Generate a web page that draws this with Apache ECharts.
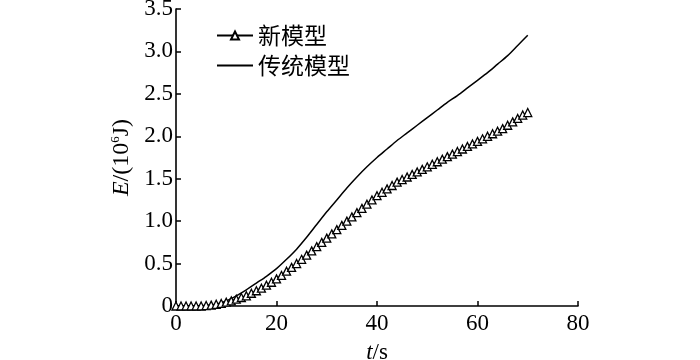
<!DOCTYPE html>
<html>
<head>
<meta charset="utf-8">
<script src="https://cdn.jsdelivr.net/npm/echarts@6/dist/echarts.min.js"></script>
<style>html,body{margin:0;padding:0;background:#fff;}#c{width:700px;height:360px;}</style>
</head>
<body>
<div id="c"></div>
<script>
var seriesNames = ['新模型', '传统模型'];
var tNew = [];
for (var i = 0; i <= 70; i++) tNew.push(i);
var eNew = [0,0,0,0,0,0,0.005,0.01,0.02,0.03,
  0.045,0.06,0.08,0.10,0.12,0.15,0.18,0.21,0.245,0.28,
  0.32,0.36,0.41,0.455,0.50,0.55,0.60,0.65,0.70,0.75,
  0.80,0.85,0.90,0.95,1.00,1.05,1.10,1.15,1.20,1.25,
  1.30,1.34,1.38,1.42,1.46,1.49,1.52,1.55,1.58,1.61,
  1.64,1.67,1.70,1.73,1.76,1.79,1.82,1.85,1.88,1.91,
  1.94,1.97,2.00,2.03,2.06,2.09,2.13,2.17,2.21,2.25,2.28];
var tOld = [0,2,4,6,8,10,12,14,16,18,20,22,24,26,28,30,32,34,36,38,40,42,44,46,48,50,52,54,56,58,60,62,64,66,68,70];
var eOld = [0,0,0,0.005,0.02,0.06,0.12,0.19,0.27,0.35,0.44,0.55,0.67,0.81,0.96,1.11,1.25,1.39,1.52,1.64,1.75,1.85,1.95,2.04,2.13,2.22,2.31,2.40,2.48,2.57,2.66,2.75,2.85,2.95,3.07,3.19];
var xTicks = [0,20,40,60,80];
var yTicks = [0,0.5,1.0,1.5,2.0,2.5,3.0,3.5];

function pairs(xs, ys){ return xs.map(function(x,i){ return [x, ys[i]]; }); }

var serif = '"Liberation Serif","DejaVu Serif",serif';
var chart = echarts.init(document.getElementById('c'), null, {renderer:'canvas'});
chart.setOption({
  animation: false,
  backgroundColor: '#fff',
  grid: {left: 176, right: 122, top: 9, bottom: 54, containLabel: false, outerBoundsMode: 'none'},
  legend: {
    orient: 'vertical', left: 211, top: 19, itemWidth: 36, itemHeight: 10, itemGap: 7,
    data: [
      {name: seriesNames[0]},
      {name: seriesNames[1], itemStyle: {opacity: 0}}
    ],
    textStyle: {fontFamily: '"Noto Sans CJK SC",sans-serif', fontSize: 23, color: '#000'}
  },
  xAxis: {
    type: 'value', min: xTicks[0], max: xTicks[xTicks.length-1], interval: 20,
    name: '{i|t}/s', nameLocation: 'middle', nameGap: 35,
    nameTextStyle: {fontFamily: serif, fontSize: 23, color: '#000',
      rich: {i: {fontFamily: serif, fontStyle: 'italic', fontSize: 23, color: '#000'}}},
    axisLine: {lineStyle: {color: '#000', width: 1.6}},
    axisTick: {inside: true, length: 5, lineStyle: {color: '#000', width: 1.5}},
    axisLabel: {fontFamily: serif, fontSize: 23, color: '#000', margin: 6},
    splitLine: {show: false}
  },
  yAxis: {
    type: 'value', min: yTicks[0], max: yTicks[yTicks.length-1], interval: 0.5,
    name: '{i|E}/(10{s|6}J)', nameLocation: 'middle', nameGap: 41, nameRotate: 90,
    nameTextStyle: {fontFamily: serif, fontSize: 24, color: '#000',
      rich: {i: {fontFamily: serif, fontStyle: 'italic', fontSize: 24, color: '#000'},
             s: {fontFamily: serif, fontSize: 13, color: '#000', verticalAlign: 'top', padding: [0,0,12,0]}}},
    axisLine: {show: true, lineStyle: {color: '#000', width: 1.6}},
    axisTick: {show: true, inside: true, length: 5, lineStyle: {color: '#000', width: 1.5}},
    axisLabel: {fontFamily: serif, fontSize: 23, color: '#000', margin: 3,
      formatter: function(v){ return v === 0 ? '0' : v.toFixed(1); }},
    splitLine: {show: false}
  },
  series: [
    {
      name: seriesNames[0], type: 'line', data: pairs(tNew, eNew),
      symbol: 'triangle', symbolSize: 8, showSymbol: true,
      lineStyle: {color: '#000', width: 1.5},
      itemStyle: {color: '#fff', borderColor: '#000', borderWidth: 1.3},
      z: 3
    },
    {
      name: seriesNames[1], type: 'line', data: pairs(tOld, eOld),
      symbol: 'none', smooth: 0.3,
      lineStyle: {color: '#000', width: 1.5},
      itemStyle: {color: '#000'},
      z: 2
    }
  ]
});
</script>
</body>
</html>
